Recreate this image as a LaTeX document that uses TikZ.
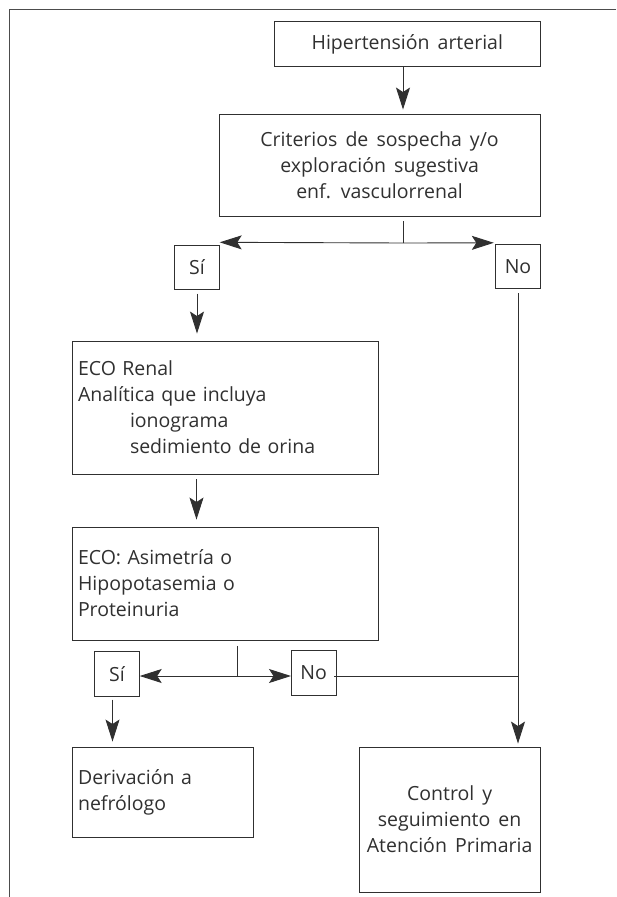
\documentclass[tikz,border=0pt]{standalone}
\usepackage{fontspec}
\setmainfont{Open Sans}[WordSpace=1.6]
\usepackage{tikz}
\usetikzlibrary{arrows.meta}
\definecolor{trazo}{HTML}{303030}

\begin{document}
\begin{tikzpicture}[x=1pt,y=-1pt,
	every node/.style={font=\fontsize{19.5}{26}\selectfont, text=trazo},
	caja/.style 2 args={
		draw=trazo,
		line width=0.9pt,
		inner sep=0pt,
		minimum width=#1,
		minimum height=#2,
		align=center
	},
	cajaizq/.style={
		draw=trazo,
		line width=0.9pt,
		inner xsep=5.3pt,
		inner ysep=0pt,
		text width=#1,
		align=left
	},
	opcion/.style={caja={44.5pt}{44.5pt}},
	linea/.style={draw=trazo, line width=0.9pt},
	flecha/.style={linea, -{Stealth[length=22pt,width=14pt,inset=4.5pt]}}
	]

	\useasboundingbox (0,0) rectangle (616,897);
	\draw[draw=black!70, line width=1.5pt] (616,9.7) -- (9.7,9.7) -- (9.7,897);

	\node[caja={266pt}{45.7pt}] (hta) at (407.3,43.9) {Hipertensión arterial};
	\node[caja={321pt}{102pt}] (crit) at (379.6,165) {Criterios de sospecha y/o\\exploración sugestiva\\enf. vasculorrenal};
	\node[opcion] (si1) at (197,267.5) {Sí};
	\node[opcion] (no1) at (518,266.5) {No};
	\node[cajaizq=294.7pt, minimum height=133pt] (eco) at (225.35,407.5) {ECO Renal\\Analítica que incluya\\\hspace*{52pt}ionograma\\\hspace*{52pt}sedimiento de orina};
	\node[cajaizq=294.7pt, minimum height=113pt] (asim) at (225.35,583.5) {ECO: Asimetría o\\Hipopotasemia o\\Proteinuria};
	\node[opcion] (si2) at (117,674) {Sí};
	\node[opcion] (no2) at (313.7,673) {No};
	\node[cajaizq=170.4pt, minimum height=90pt] (deriv) at (163.25,792) {Derivación a\\nefrólogo};
	\node[caja={181.3pt}{145pt}] (ctrl) at (449.65,819.5) {Control y\\seguimiento en\\Atención Primaria};

	\coordinate (bif1) at (403,243);
	\coordinate (bif2) at (237.7,676);

	\draw[flecha] ([xshift=-4.3pt]hta.south) -- ([xshift=-4.3pt,yshift=4pt]hta.south |- crit.north);
	\draw[linea] ([yshift=-5pt]bif1 |- crit.south) -- (bif1);
	\draw[flecha] (bif1) -- ([yshift=2.5pt]si1.north east);
	\draw[flecha] (bif1) -- ([shift={(-1.5pt,1pt)}]no1.north west);
	\draw[flecha] ([yshift=-3.5pt]si1.south) -- ([yshift=7pt]si1.south |- eco.north);
	\draw[flecha] ([xshift=-0.5pt,yshift=-5pt]si1.south |- eco.south) -- ([xshift=-0.5pt,yshift=7pt]si1.south |- asim.north);
	\draw[linea] ([yshift=-5.5pt]bif2 |- asim.south) -- (bif2);
	\draw[flecha] (bif2) -- (si2.east |- bif2);
	\draw[flecha] (bif2) -- (no2.west |- bif2);
	\draw[linea] ([xshift=-2pt]no2.east |- bif2) -- (no1.south |- bif2);
	\draw[flecha] ([yshift=-4pt]no1.south) -- ([yshift=3pt]no1.south |- ctrl.north);
	\draw[flecha] ([xshift=-4.5pt,yshift=-3pt]si2.south) -- ([xshift=-4.5pt,yshift=5pt]si2.south |- deriv.north);
\end{tikzpicture}
\end{document}
